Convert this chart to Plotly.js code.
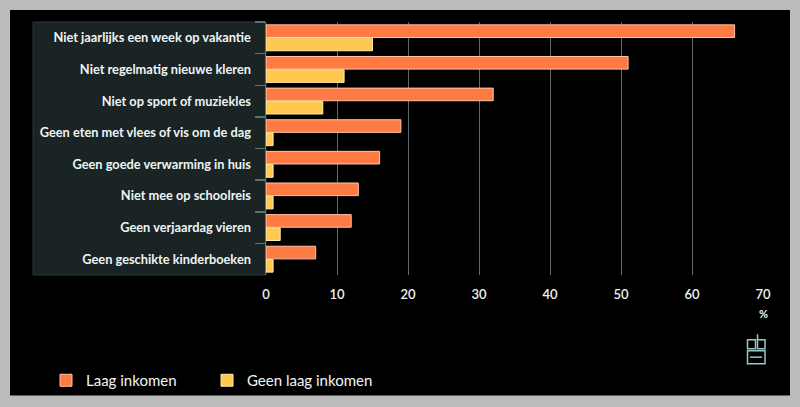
<!DOCTYPE html>
<html>
<head>
<meta charset="utf-8">
<script src="https://cdn.plot.ly/plotly-3.0.1.min.js"></script>
<style>
html,body{margin:0;padding:0;background:#bbbbbb;}
#chart{width:800px;height:407px;}
</style>
</head>
<body>
<div id="chart"></div>
<script>
var categories = [
  "Niet jaarlijks een week op vakantie",
  "Niet regelmatig nieuwe kleren",
  "Niet op sport of muziekles",
  "Geen eten met vlees of vis om de dag",
  "Geen goede verwarming in huis",
  "Niet mee op schoolreis",
  "Geen verjaardag vieren",
  "Geen geschikte kinderboeken"
];
var laagInkomen = [66, 51, 32, 19, 16, 13, 12, 7];
var geenLaagInkomen = [15, 11, 8, 1, 1, 1, 2, 1];
var seriesNames = ["Laag inkomen", "Geen laag inkomen"];
var xTicks = [0, 10, 20, 30, 40, 50, 60, 70];

// plot area in pixels
var L = 266, R = 763, T = 22, B = 276;
function px(x){ return (x - L) / (R - L); }
function py(y){ return (B - y) / (B - T); }

var font = "Lato, Open Sans, sans-serif";

var traces = [
  {
    type: "bar", orientation: "h", name: seriesNames[0], legend: "legend",
    y: categories, x: laagInkomen,
    marker: {color: "#ff7b44", line: {color: "#ffc4a8", width: 1}},
    hoverinfo: "x+y"
  },
  {
    type: "bar", orientation: "h", name: seriesNames[1], legend: "legend2",
    y: categories, x: geenLaagInkomen,
    marker: {color: "#ffc94f", line: {color: "#ffeaa8", width: 1}},
    hoverinfo: "x+y"
  }
];

var lc = "#9cc6c6";
var shapes = [
  // black panel
  {type:"rect", xref:"paper", yref:"paper", layer:"below",
   x0:px(10), x1:px(790), y0:py(397), y1:py(10),
   fillcolor:"#000000", line:{width:0}},
  // label panel
  {type:"rect", xref:"paper", yref:"paper", layer:"below",
   x0:px(33), x1:px(266), y0:py(276), y1:py(22),
   fillcolor:"#1b2424", line:{color:"#2c3838", width:1}},
  // cbs logo (decorative)
  {type:"rect", xref:"paper", yref:"paper", x0:px(747.5), x1:px(755.5), y0:py(350), y1:py(341), line:{color:lc,width:1.5}},
  {type:"rect", xref:"paper", yref:"paper", x0:px(757.5), x1:px(765), y0:py(350), y1:py(341), line:{color:lc,width:1.5}},
  {type:"line", xref:"paper", yref:"paper", x0:px(757.5), x1:px(757.5), y0:py(341), y1:py(335.5), line:{color:lc,width:1.5}},
  {type:"rect", xref:"paper", yref:"paper", x0:px(747.5), x1:px(765), y0:py(365), y1:py(352), line:{color:lc,width:1.5}},
  {type:"line", xref:"paper", yref:"paper", x0:px(750), x1:px(762), y0:py(358.5), y1:py(358.5), line:{color:lc,width:1.5}}
];

var legendBase = {
  orientation: "h", xanchor: "left", yanchor: "top",
  font: {family: font, size: 15, color: "#f2f6f6"},
  bgcolor: "rgba(0,0,0,0)"
};

var layout = {
  width: 800, height: 407,
  margin: {l: L, r: 800 - R, t: T, b: 407 - B, pad: 0},
  paper_bgcolor: "#bbbbbb",
  plot_bgcolor: "rgba(0,0,0,0)",
  barmode: "group",
  bargap: 0.16,
  bargroupgap: 0.05,
  showlegend: true,
  legend: Object.assign({}, legendBase, {x: px(46), y: py(364)}),
  legend2: Object.assign({}, legendBase, {x: px(207), y: py(364)}),
  xaxis: {
    range: [0, 70],
    tickvals: xTicks,
    ticktext: xTicks.map(String),
    showgrid: true, gridcolor: "#5c6b6b", gridwidth: 1,
    zeroline: false, showline: false,
    ticks: "", ticklabelstandoff: 10,
    tickfont: {family: font, size: 13, color: "#eef4f4", weight: 600},
    fixedrange: true
  },
  yaxis: {
    autorange: "reversed",
    showgrid: false, zeroline: false,
    showline: true, linecolor: "#5f7272", linewidth: 1.5,
    ticks: "outside", tickson: "boundaries", ticklen: 10, tickcolor: "#5f7272", tickwidth: 1.5,
    ticklabelstandoff: 11,
    tickfont: {family: font, size: 12.8, color: "#eef4f4", weight: 700},
    fixedrange: true
  },
  shapes: shapes,
  annotations: [
    {text: "%", xref: "paper", yref: "paper", x: px(763), y: py(315),
     xanchor: "center", yanchor: "middle", showarrow: false,
     font: {family: font, size: 11, color: "#eef4f4", weight: 700}}
  ]
};

Plotly.newPlot("chart", traces, layout, {displayModeBar: false, staticPlot: true});
</script>
</body>
</html>
